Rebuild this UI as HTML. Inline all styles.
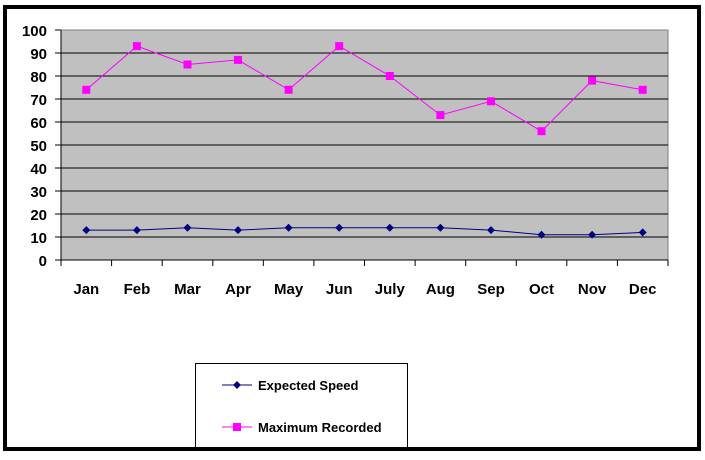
<!DOCTYPE html>
<html><head><style>body{margin:0;background:#fff}</style></head><body>
<svg width="705" height="455" xmlns="http://www.w3.org/2000/svg" font-family="Liberation Sans, sans-serif" font-weight="bold">
<rect x="5" y="7" width="694" height="442" fill="#fff" stroke="#000" stroke-width="4"/>
<rect x="61" y="30" width="607" height="230" fill="#c0c0c0" stroke="#808080" stroke-width="1"/>
<g stroke="#000" stroke-width="1">
<line x1="61" y1="53" x2="668" y2="53"/><line x1="61" y1="76" x2="668" y2="76"/><line x1="61" y1="99" x2="668" y2="99"/>
<line x1="61" y1="122" x2="668" y2="122"/><line x1="61" y1="145" x2="668" y2="145"/><line x1="61" y1="168" x2="668" y2="168"/>
<line x1="61" y1="191" x2="668" y2="191"/><line x1="61" y1="214" x2="668" y2="214"/><line x1="61" y1="237" x2="668" y2="237"/>
<line x1="61" y1="260" x2="668" y2="260"/><line x1="61" y1="30" x2="61" y2="266"/>
<line x1="55" y1="30" x2="61" y2="30"/><line x1="55" y1="53" x2="61" y2="53"/><line x1="55" y1="76" x2="61" y2="76"/><line x1="55" y1="99" x2="61" y2="99"/><line x1="55" y1="122" x2="61" y2="122"/><line x1="55" y1="145" x2="61" y2="145"/><line x1="55" y1="168" x2="61" y2="168"/><line x1="55" y1="191" x2="61" y2="191"/><line x1="55" y1="214" x2="61" y2="214"/><line x1="55" y1="237" x2="61" y2="237"/><line x1="55" y1="260" x2="61" y2="260"/>
<line x1="111.6" y1="260" x2="111.6" y2="266"/><line x1="162.2" y1="260" x2="162.2" y2="266"/><line x1="212.8" y1="260" x2="212.8" y2="266"/><line x1="263.3" y1="260" x2="263.3" y2="266"/><line x1="313.9" y1="260" x2="313.9" y2="266"/><line x1="364.5" y1="260" x2="364.5" y2="266"/><line x1="415.1" y1="260" x2="415.1" y2="266"/><line x1="465.7" y1="260" x2="465.7" y2="266"/><line x1="516.3" y1="260" x2="516.3" y2="266"/><line x1="566.8" y1="260" x2="566.8" y2="266"/><line x1="617.4" y1="260" x2="617.4" y2="266"/><line x1="668" y1="260" x2="668" y2="266"/>
</g>
<g font-size="15" text-anchor="end" fill="#000">
<text x="47" y="36">100</text><text x="47" y="59">90</text><text x="47" y="82">80</text><text x="47" y="105">70</text><text x="47" y="128">60</text><text x="47" y="151">50</text><text x="47" y="174">40</text><text x="47" y="197">30</text><text x="47" y="220">20</text><text x="47" y="243">10</text><text x="47" y="266">0</text>
</g>
<g font-size="15" text-anchor="middle" fill="#000">
<text x="86.3" y="294">Jan</text><text x="136.9" y="294">Feb</text><text x="187.5" y="294">Mar</text><text x="238" y="294">Apr</text><text x="288.6" y="294">May</text><text x="339.2" y="294">Jun</text><text x="389.8" y="294">July</text><text x="440.4" y="294">Aug</text><text x="491" y="294">Sep</text><text x="541.5" y="294">Oct</text><text x="592.1" y="294">Nov</text><text x="642.7" y="294">Dec</text>
</g>
<polyline fill="none" stroke="#000080" stroke-width="1" points="86.3,230.1 136.9,230.1 187.5,227.8 238,230.1 288.6,227.8 339.2,227.8 389.8,227.8 440.4,227.8 491,230.1 541.5,234.7 592.1,234.7 642.7,232.4"/>
<g fill="#000080">
<path d="M86.3,226.1l4,4l-4,4l-4,-4z"/><path d="M136.9,226.1l4,4l-4,4l-4,-4z"/><path d="M187.5,223.8l4,4l-4,4l-4,-4z"/><path d="M238,226.1l4,4l-4,4l-4,-4z"/><path d="M288.6,223.8l4,4l-4,4l-4,-4z"/><path d="M339.2,223.8l4,4l-4,4l-4,-4z"/><path d="M389.8,223.8l4,4l-4,4l-4,-4z"/><path d="M440.4,223.8l4,4l-4,4l-4,-4z"/><path d="M491,226.1l4,4l-4,4l-4,-4z"/><path d="M541.5,230.7l4,4l-4,4l-4,-4z"/><path d="M592.1,230.7l4,4l-4,4l-4,-4z"/><path d="M642.7,228.4l4,4l-4,4l-4,-4z"/>
</g>
<polyline fill="none" stroke="#ff00ff" stroke-width="1" points="86.3,89.8 136.9,46.1 187.5,64.5 238,59.9 288.6,89.8 339.2,46.1 389.8,76 440.4,115.1 491,101.3 541.5,131.2 592.1,80.6 642.7,89.8"/>
<g fill="#ff00ff">
<rect x="82.3" y="85.8" width="8" height="8"/><rect x="132.9" y="42.1" width="8" height="8"/><rect x="183.5" y="60.5" width="8" height="8"/><rect x="234" y="55.9" width="8" height="8"/><rect x="284.6" y="85.8" width="8" height="8"/><rect x="335.2" y="42.1" width="8" height="8"/><rect x="385.8" y="72" width="8" height="8"/><rect x="436.4" y="111.1" width="8" height="8"/><rect x="487" y="97.3" width="8" height="8"/><rect x="537.5" y="127.2" width="8" height="8"/><rect x="588.1" y="76.6" width="8" height="8"/><rect x="638.7" y="85.8" width="8" height="8"/>
</g>
<rect x="195.5" y="363.5" width="212" height="86" fill="#fff" stroke="#000" stroke-width="1"/>
<line x1="222" y1="385" x2="252" y2="385" stroke="#000080"/><path d="M237,381l4,4l-4,4l-4,-4z" fill="#000080"/>
<line x1="222" y1="427" x2="252" y2="427" stroke="#ff00ff"/><rect x="233" y="423" width="8" height="8" fill="#ff00ff"/>
<g font-size="13" fill="#000"><text x="258" y="390">Expected Speed</text><text x="258" y="432">Maximum Recorded</text></g>
<rect x="5" y="447" width="694" height="4" fill="#000"/>
</svg>
</body></html>
